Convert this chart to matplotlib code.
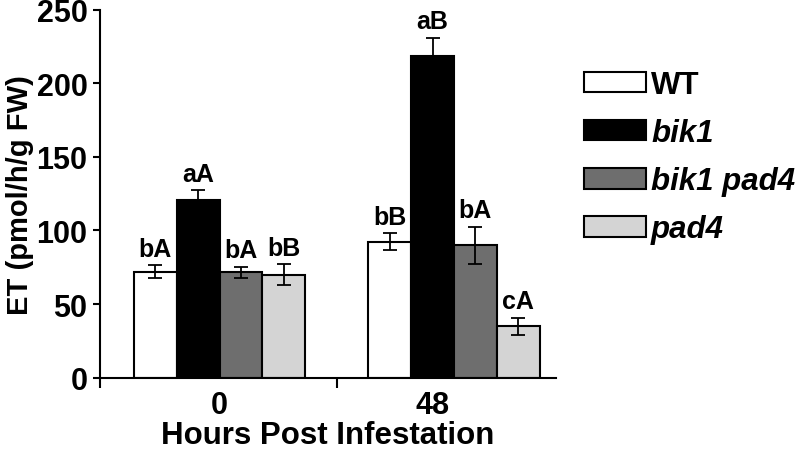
import numpy as np
import matplotlib.pyplot as plt

# data
hours = ['0', '48']
genotypes = ['WT', 'bik1', 'bik1 pad4', 'pad4']
et_mean = {
    'WT':        [72, 92.5],
    'bik1':      [121, 218.5],
    'bik1 pad4': [71.5, 90],
    'pad4':      [70, 35],
}
et_err = {
    'WT':        [4.5, 5.5],
    'bik1':      [6.3, 12.7],
    'bik1 pad4': [4, 12.7],
    'pad4':      [7, 5.8],
}
letters = {
    'WT':        ['bA', 'bB'],
    'bik1':      ['aA', 'aB'],
    'bik1 pad4': ['bA', 'bA'],
    'pad4':      ['bB', 'cA'],
}

colors = ['white', 'black', '#6e6e6e', '#d4d4d4']

plt.rcParams['font.family'] = ['Liberation Sans', 'DejaVu Sans']
plt.rcParams['font.weight'] = 'bold'

fig = plt.figure(figsize=(7.97, 4.52), dpi=100)
ax = fig.add_axes([0.1255, 0.1626, 0.572, 0.8131])

x = np.arange(len(hours))
w = 0.1825
for i, g in enumerate(genotypes):
    xs = x + (i - 1.5) * w
    ax.bar(xs, et_mean[g], width=w, color=colors[i], edgecolor='black',
           linewidth=1.5, label=g, zorder=2)
    ax.errorbar(xs, et_mean[g], yerr=et_err[g], fmt='none', ecolor='black',
                elinewidth=1.3, capsize=5, capthick=1.3, zorder=3)
    for xx, m, e, t in zip(xs, et_mean[g], et_err[g], letters[g]):
        ax.annotate(t, (xx, m + e), xytext=(0, 3), textcoords='offset points',
                    ha='center', va='bottom', fontsize=18, fontweight='bold')

ax.set_ylim(0, 250)
ax.set_xlim(-0.51, 1.435)
ax.set_yticks([0, 50, 100, 150, 200, 250])
ax.set_xticks([0, 0.91])
ax.set_xticklabels(hours)
ax.set_xticks([-0.51, 0.5], minor=True)
ax.tick_params(axis='x', which='major', length=0, pad=9, labelsize=22)
ax.tick_params(axis='x', which='minor', length=7, width=1.5, direction='out')
ax.tick_params(axis='y', length=5, width=1.5, pad=4, labelsize=22)
for lab in ax.get_xticklabels() + ax.get_yticklabels():
    lab.set_fontweight('bold')

for s in ['top', 'right']:
    ax.spines[s].set_visible(False)
for s in ['left', 'bottom']:
    ax.spines[s].set_linewidth(1.5)

ax.set_ylabel('ET (pmol/h/g FW)', fontsize=21, fontweight='bold', labelpad=2)
ax.set_xlabel('Hours Post Infestation', fontsize=22.5, fontweight='bold', labelpad=0)

leg = fig.legend(loc='upper left', bbox_to_anchor=(0.733, 1 - 71 / 452),
                 frameon=False, fontsize=22.5, borderpad=0, borderaxespad=0,
                 handlelength=1.98, handleheight=0.64, handletextpad=0.16,
                 labelspacing=0.58)
for t in leg.get_texts():
    t.set_fontweight('bold')
    if t.get_text() != 'WT':
        t.set_fontstyle('italic')

fig.savefig('out.png', dpi=100)
